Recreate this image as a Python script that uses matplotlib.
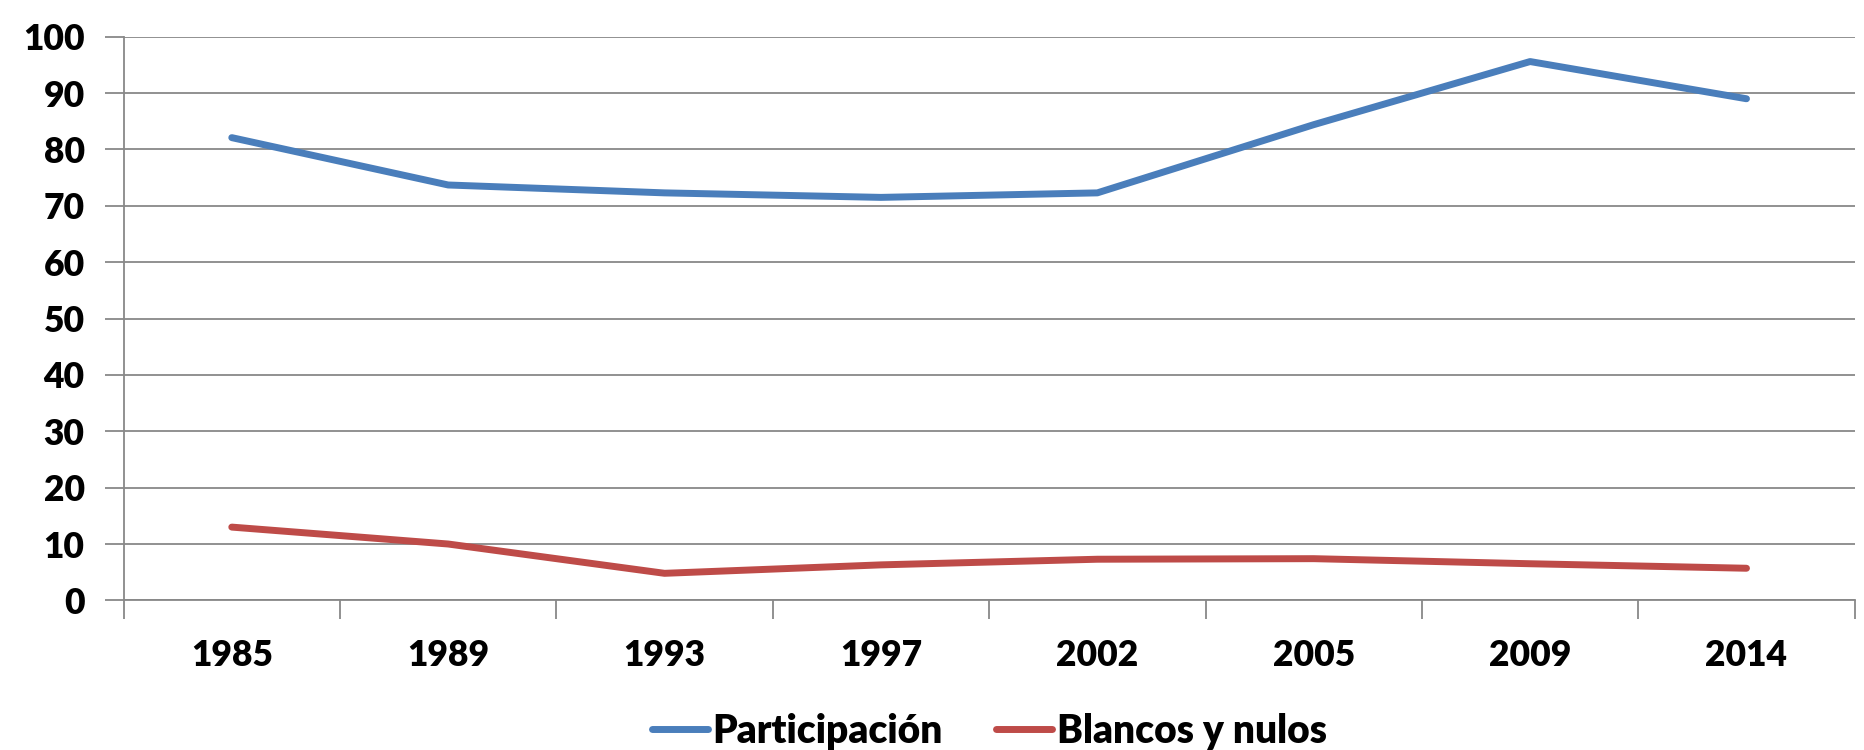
import matplotlib.pyplot as plt
import numpy as np

# datos
years = ['1985', '1989', '1993', '1997', '2002', '2005', '2009', '2014']
participacion = [82.1, 73.7, 72.3, 71.5, 72.3, 84.4, 95.6, 89.0]
blancos_nulos = [13.0, 10.0, 4.8, 6.3, 7.3, 7.4, 6.5, 5.7]

plt.rcParams['font.family'] = ['Lato', 'DejaVu Sans']
plt.rcParams['font.weight'] = 'heavy'

fig = plt.figure(figsize=(18.64, 7.5), dpi=100)
ax = fig.add_axes([0.0663, 0.1995, 0.9287, 0.7515])

ind = np.arange(len(years))
ax.plot(ind, participacion, color='#4A7EBB', lw=5, solid_capstyle='round', label='Participación')
ax.plot(ind, blancos_nulos, color='#BE4B48', lw=5, solid_capstyle='round', label='Blancos y nulos')

ax.set_xlim(-0.5, len(years) - 0.5)
ax.set_ylim(0, 100)
ax.set_yticks(range(0, 101, 10))
ax.yaxis.grid(True, color='#888888', lw=1.3)
ax.set_axisbelow(True)

# ticks del eje x entre categorias
ax.set_xticks(ind)
ax.set_xticklabels(years, fontweight='heavy')
ax.set_xticks(np.arange(-0.5, len(years)), minor=True)
ax.tick_params(axis='x', which='major', length=0, pad=28, labelsize=25.5)
ax.tick_params(axis='x', which='minor', length=14, width=1.3, color='#888888')
ax.tick_params(axis='y', length=14, width=1.3, color='#888888', pad=14, labelsize=25.5)
for t in ax.get_yticklabels():
    t.set_fontweight('heavy')

for s in ['top', 'right']:
    ax.spines[s].set_visible(False)
ax.spines['left'].set_color('#888888')
ax.spines['left'].set_linewidth(1.3)
ax.spines['bottom'].set_color('#888888')
ax.spines['bottom'].set_linewidth(1.3)

leg = ax.legend(loc='center', bbox_to_anchor=(0.5, -0.232), ncol=2, frameon=False,
                prop={'size': 28, 'weight': 'heavy'}, handlelength=1.45,
                handletextpad=0.12, columnspacing=1.35)

fig.savefig('out.png', dpi=100)
